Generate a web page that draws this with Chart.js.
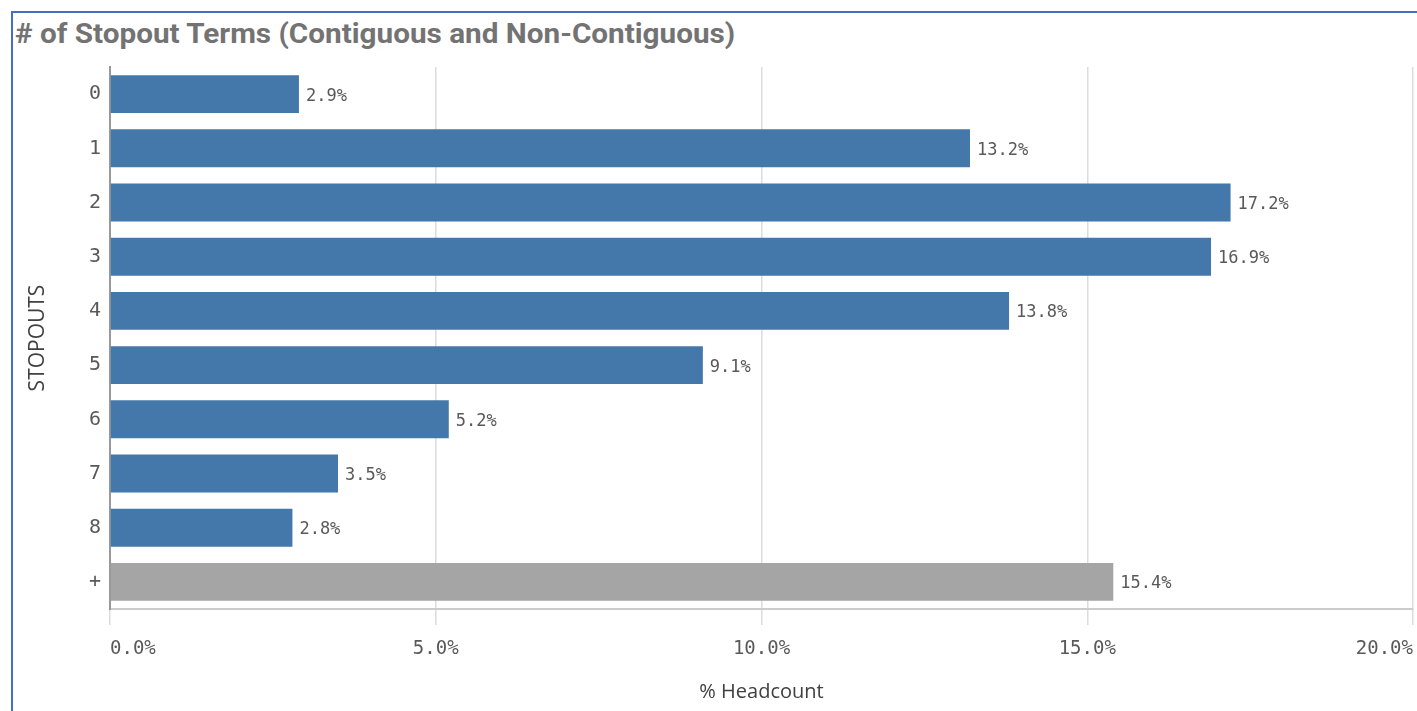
<!DOCTYPE html>
<html>
<head>
<meta charset="utf-8">
<title>Stopout Terms</title>
<script src="https://cdn.jsdelivr.net/npm/chart.js@4"></script>
<style>
  html, body { margin: 0; padding: 0; background: #fff; }
  .frame {
    position: relative;
    width: 1417px;
    height: 711px;
    overflow: hidden;
  }
  .frame .edge-top {
    position: absolute; left: 12px; top: 11px; right: 0; height: 2px;
    background: #4a6cc0;
  }
  .frame .edge-left {
    position: absolute; left: 11px; top: 11px; bottom: 0; width: 2px;
    background: #4a6cc0;
  }
  .chart-title {
    position: absolute;
    left: 15px;
    top: 17px;
    font-family: Roboto, "Noto Sans", sans-serif;
    font-weight: 700;
    font-size: 28px;
    line-height: 34px;
    color: #737373;
    white-space: nowrap;
    transform-origin: left center;
  }
  .chart-box {
    position: absolute; left: 0; top: 0;
    width: 1417px; height: 711px;
  }
</style>
</head>
<body>
<div class="frame">
  <div class="edge-top"></div>
  <div class="edge-left"></div>
  <div class="chart-title" id="title"># of Stopout Terms (Contiguous and Non-Contiguous)</div>
  <div class="chart-box"><canvas id="stopoutChart" width="1417" height="711"></canvas></div>
</div>

<script>
// number of stopouts per person, "+" is everything above 8
const stopouts = ['0', '1', '2', '3', '4', '5', '6', '7', '8', '+'];
// share of headcount, in percent
const headcount = [2.9, 13.2, 17.2, 16.9, 13.8, 9.1, 5.2, 3.5, 2.8, 15.4];
const xTicks = [0, 5, 10, 15, 20];

const barBlue = '#4477aa';
const barGray = '#a5a5a5';
const monoFont = '"DejaVu Sans Mono", monospace';
const sansFont = '"Open Sans", Roboto, sans-serif';

// squeeze the heading a little so it reads like a condensed face
const titleEl = document.getElementById('title');
titleEl.style.transform = 'scaleX(' + (720 / titleEl.offsetWidth) + ')';

// writes the value just past the end of each bar
const valueLabels = {
  id: 'valueLabels',
  afterDatasetsDraw(chart) {
    const ctx = chart.ctx;
    const meta = chart.getDatasetMeta(0);
    ctx.save();
    ctx.font = '17px ' + monoFont;
    ctx.fillStyle = '#595959';
    ctx.textAlign = 'left';
    ctx.textBaseline = 'middle';
    meta.data.forEach((bar, i) => {
      const v = chart.data.datasets[0].data[i];
      ctx.fillText(v.toFixed(1) + '%', bar.x + 7, bar.y + 2);
    });
    ctx.restore();
  }
};

Chart.defaults.animation = false;
Chart.defaults.color = '#595959';

const chart = new Chart(document.getElementById('stopoutChart'), {
  type: 'bar',
  data: {
    labels: stopouts,
    datasets: [{
      label: '% Headcount',
      data: headcount,
      backgroundColor: stopouts.map(s => s === '+' ? barGray : barBlue),
      borderWidth: 0,
      categoryPercentage: 1,
      barPercentage: 0.7
    }]
  },
  options: {
    indexAxis: 'y',
    responsive: false,
    layout: { padding: { left: 12, right: 4, top: 67, bottom: 0 } },
    plugins: {
      legend: { display: false },
      tooltip: { enabled: false }
    },
    scales: {
      x: {
        min: 0,
        max: 20,
        afterBuildTicks(axis) {
          axis.ticks = xTicks.map(v => ({ value: v }));
        },
        afterFit(axis) {
          axis.height = 102;
          // end labels are aligned inward, so no extra room is needed
          axis.paddingLeft = 0;
          axis.paddingRight = 0;
        },
        ticks: {
          font: { family: monoFont, size: 19 },
          color: '#595959',
          padding: 13,
          maxRotation: 0,
          align: 'inner',
          callback: v => v.toFixed(1) + '%'
        },
        grid: {
          color: '#dcdcdc',
          lineWidth: 1.5,
          tickLength: 16
        },
        border: { display: true, color: '#cccccc', width: 2 },
        title: {
          display: true,
          text: '% Headcount',
          font: { family: sansFont, size: 20 },
          color: '#404040',
          padding: { top: 0, bottom: 7 }
        }
      },
      y: {
        afterFit(axis) { axis.width = 98; },
        ticks: {
          font: { family: monoFont, size: 20 },
          color: '#595959',
          padding: 9
        },
        grid: { drawOnChartArea: false, drawTicks: false },
        border: { display: true, color: '#999999', width: 2 },
        title: {
          display: true,
          text: 'STOPOUTS',
          font: { family: sansFont, size: 21 },
          color: '#404040',
          padding: { top: 13, bottom: 0 }
        }
      }
    }
  },
  plugins: [valueLabels]
});
</script>
</body>
</html>
